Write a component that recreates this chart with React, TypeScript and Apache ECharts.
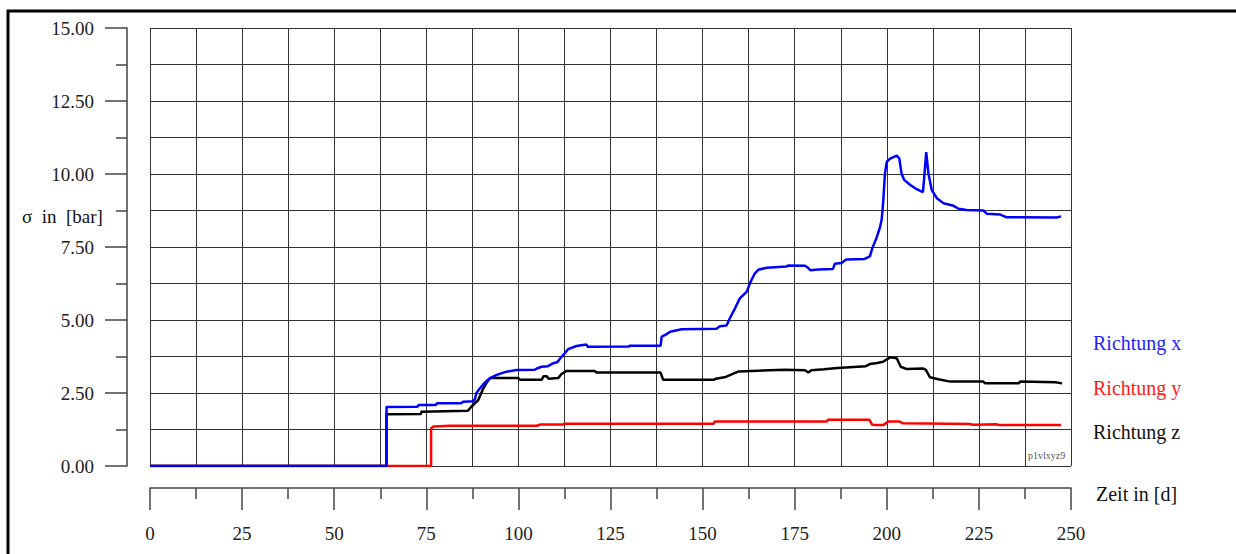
import React, { useEffect, useRef } from "react";
import * as echarts from "echarts";

// Zeit in [d], σ in [bar]
const richtungX: [number, number][] = [
  [0, 0], [64.2, 0], [64.2, 2.02], [72.5, 2.03], [73, 2.09], [77.5, 2.09], [78, 2.15],
  [84.5, 2.15], [85, 2.2], [87.8, 2.22], [88.2, 2.3], [88.6, 2.5], [89.5, 2.65], [90.5, 2.8],
  [91.5, 2.93], [92.3, 3.01], [94.1, 3.12], [96.8, 3.23], [99.5, 3.29], [104.5, 3.3],
  [105, 3.34], [106.3, 3.4], [108, 3.42], [109.5, 3.52], [110.5, 3.55], [111.4, 3.69],
  [112.5, 3.85], [113.5, 4.0], [115.8, 4.11], [118.4, 4.16], [118.9, 4.08], [129.9, 4.09],
  [130.3, 4.12], [138.6, 4.12], [138.9, 4.43], [140, 4.5], [141.2, 4.6], [144.3, 4.68],
  [153.8, 4.7], [154.7, 4.79], [156.5, 4.81], [157.4, 5.06], [158.8, 5.4], [160.1, 5.74],
  [162, 5.97], [163, 6.3], [164.2, 6.6], [165.1, 6.72], [167.4, 6.79], [172.8, 6.83],
  [173.2, 6.87], [177.8, 6.86], [178.7, 6.78], [179.3, 6.7], [181.4, 6.73], [185.4, 6.75],
  [185.9, 6.93], [187.7, 6.95], [189, 7.07], [194, 7.09], [195.4, 7.18], [196.1, 7.47],
  [197.2, 7.81], [198.1, 8.15], [198.6, 8.43], [199, 9.0], [199.5, 10.02], [200, 10.42],
  [200.9, 10.53], [202.7, 10.63], [203.4, 10.53], [204, 10.02], [204.7, 9.8], [206.3, 9.63],
  [208.1, 9.48], [209.8, 9.38], [210.1, 9.8], [210.7, 10.75], [211.3, 10.02], [212.2, 9.45],
  [213.6, 9.17], [215.4, 9.0], [218.1, 8.91], [219.5, 8.81], [221.7, 8.77], [226.2, 8.75],
  [227.1, 8.64], [230.8, 8.61], [232.4, 8.52], [246.1, 8.51], [247.3, 8.55],
];

const richtungY: [number, number][] = [
  [0, 0], [76.3, 0], [76.3, 1.29], [77, 1.35], [81.4, 1.38], [105, 1.38], [106, 1.42],
  [112, 1.42], [112.5, 1.45], [153, 1.45], [153.3, 1.52], [183.7, 1.52], [184, 1.58],
  [195.3, 1.58], [196, 1.42], [196.8, 1.4], [199, 1.4], [200.4, 1.52], [203.5, 1.52],
  [204.4, 1.46], [222.5, 1.44], [223.4, 1.41], [229.7, 1.43], [230.6, 1.4], [247.3, 1.4],
];

const richtungZ: [number, number][] = [
  [0, 0], [64.2, 0], [64.2, 1.77], [73.5, 1.78], [73.7, 1.86], [86.3, 1.89], [87.2, 2.03],
  [89.1, 2.26], [90.5, 2.66], [91.5, 2.88], [92.3, 3.01], [100, 3.01], [100.5, 2.95],
  [106.3, 2.95], [106.8, 3.07], [107.7, 3.07], [108.2, 2.99], [110.8, 3.01], [111.7, 3.15],
  [113, 3.25], [120.7, 3.25], [121.2, 3.2], [138.6, 3.2], [139.3, 2.95], [153, 2.95],
  [153.6, 2.99], [156.3, 3.05], [158.5, 3.17], [159.8, 3.24], [172.4, 3.3], [177.8, 3.28],
  [178.7, 3.2], [179.5, 3.28], [183, 3.31], [186.6, 3.36], [194.3, 3.42], [195.4, 3.49],
  [197.4, 3.53], [199, 3.57], [200.9, 3.72], [202.7, 3.69], [203.8, 3.4], [205.4, 3.32],
  [209.9, 3.34], [210.6, 3.29], [211.7, 3.04], [214, 2.97], [217.2, 2.89], [226.2, 2.89],
  [226.7, 2.83], [235.8, 2.83], [236.2, 2.89], [245.8, 2.87], [247.6, 2.83],
];

const legendLabels = ["Richtung x", "Richtung y", "Richtung z"];
const legendColors = ["#1f1fff", "#ff1a1a", "#111111"];
const lineColors = ["#0000ff", "#ff0000", "#000000"];

const FONT = '"Liberation Serif", "Times New Roman", serif';

export default function App() {
  const ref = useRef<HTMLDivElement>(null);
  useEffect(() => {
    if (!ref.current) return;
    const chart = echarts.init(ref.current, undefined, { renderer: "svg" });
    const gridLine = { show: true, lineStyle: { color: "#333", width: 1 } };
    const axisLineStyle = { color: "#444", width: 1.5 };
    chart.setOption({
      animation: false,
      textStyle: { fontFamily: FONT },
      grid: { left: 150, top: 28, width: 921, height: 438 },
      xAxis: {
        type: "value",
        min: 0,
        max: 250,
        interval: 25,
        offset: 22,
        axisLine: { show: true, onZero: false, lineStyle: axisLineStyle },
        axisTick: { show: true, length: 22, lineStyle: axisLineStyle },
        minorTick: { show: true, splitNumber: 2, length: 11, lineStyle: axisLineStyle },
        axisLabel: { margin: 36, fontSize: 19, color: "#222", fontFamily: FONT },
        splitLine: gridLine,
        minorSplitLine: gridLine,
      },
      yAxis: {
        type: "value",
        min: 0,
        max: 15,
        interval: 2.5,
        offset: 23,
        axisLine: { show: true, onZero: false, lineStyle: axisLineStyle },
        axisTick: { show: true, length: 22, lineStyle: axisLineStyle },
        minorTick: { show: true, splitNumber: 2, length: 11, lineStyle: axisLineStyle },
        axisLabel: {
          margin: 33,
          fontSize: 19,
          color: "#222",
          fontFamily: FONT,
          formatter: (v: number) => v.toFixed(2),
        },
        splitLine: gridLine,
        minorSplitLine: gridLine,
      },
      series: [
        { name: legendLabels[1], type: "line", data: richtungY, color: lineColors[1] },
        { name: legendLabels[2], type: "line", data: richtungZ, color: lineColors[2] },
        { name: legendLabels[0], type: "line", data: richtungX, color: lineColors[0] },
      ].map((s) => ({
        ...s,
        showSymbol: false,
        symbol: "none",
        lineStyle: { width: 2.5, color: s.color },
      })),
      graphic: [
        {
          type: "rect",
          z: -10,
          shape: { x: 8, y: 11, width: 1400, height: 1000 },
          style: { fill: "none", stroke: "#000", lineWidth: 3 },
        },
        {
          type: "text",
          x: 22,
          y: 216,
          style: { text: "σ  in  [bar]", fontSize: 19, fontFamily: FONT, fill: "#111", verticalAlign: "middle" },
        },
        ...legendLabels.map((t, i) => ({
          type: "text",
          x: 1093,
          y: [343, 388, 432][i],
          style: { text: t, fontSize: 20, fontFamily: FONT, fill: legendColors[i], verticalAlign: "middle" },
        })),
        {
          type: "text",
          x: 1096,
          y: 494,
          style: { text: "Zeit in [d]", fontSize: 20, fontFamily: FONT, fill: "#111", verticalAlign: "middle" },
        },
        {
          type: "text",
          x: 1028,
          y: 455,
          style: { text: "p1vlxyz9", fontSize: 10, fontFamily: FONT, fill: "#555", verticalAlign: "middle" },
        },
      ],
    });
    return () => chart.dispose();
  }, []);
  return (
    <div
      ref={ref}
      style={{ position: "absolute", left: 0, top: 0, width: 1236, height: 554, background: "#fff" }}
    />
  );
}
